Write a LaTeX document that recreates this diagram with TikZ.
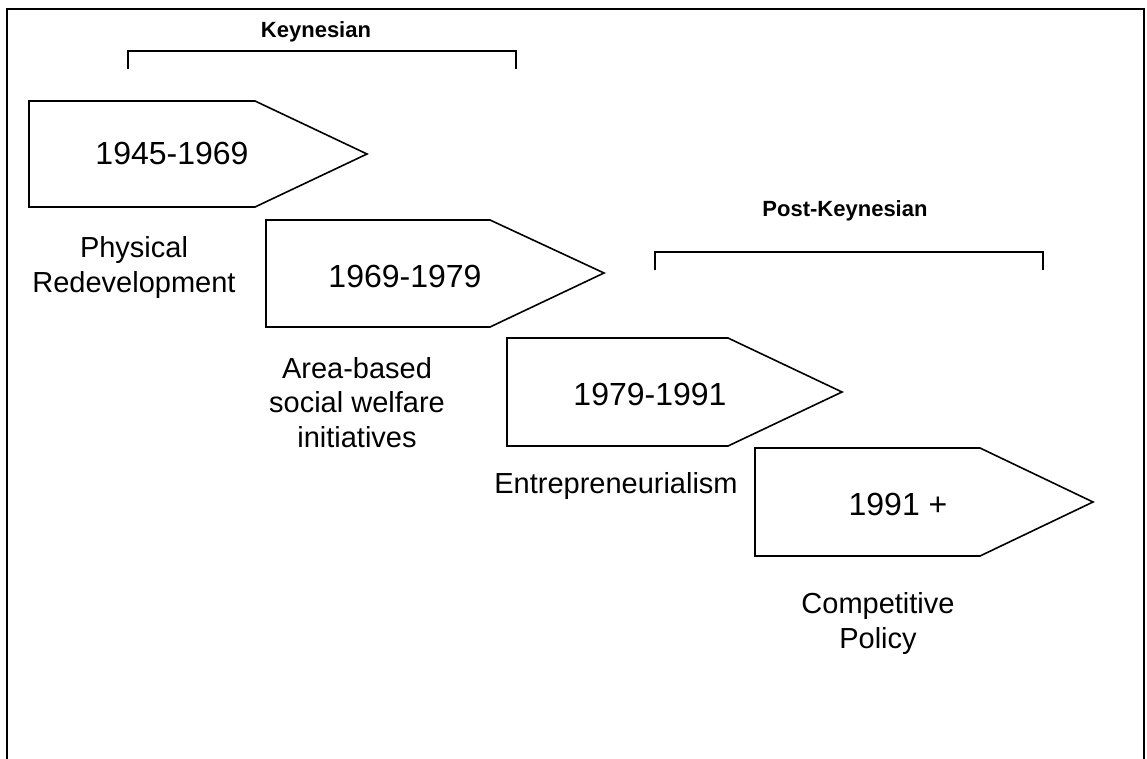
\documentclass[tikz,border=0pt]{standalone}
\usepackage{fontspec}
\setmainfont{Liberation Sans}
\begin{document}
\begin{tikzpicture}[x=1pt,y=-1pt,
  line width=1.6pt,
  stage/.style={draw=black, line join=miter},
  year/.style={font=\fontsize{32}{36}\selectfont, inner sep=0pt, anchor=base},
  lbl/.style={font=\fontsize{29}{34.5}\selectfont, align=center, inner sep=0pt, anchor=base},
  era/.style={font=\bfseries\fontsize{22}{25}\selectfont, inner sep=0pt, anchor=base},
  brk/.style={draw=black, line width=1.6pt}]
\useasboundingbox (0,0) rectangle (1147,759);
% frame
\draw[line width=1.8pt] (7,770) -- (7,9) -- (1144,9) -- (1144,770);
% Keynesian bracket
\node[era] (k) at (316,38) {Keynesian};
\coordinate (k1) at (128,69); \coordinate (k2) at (128,51);
\coordinate (k3) at (516,51); \coordinate (k4) at (516,69);
\draw[brk] (k1) -- (k2) -- (k3) -- (k4);
% Post-Keynesian bracket
\node[era] (pk) at (845,217) {Post-Keynesian};
\coordinate (p1) at (655,270); \coordinate (p2) at (655,252);
\coordinate (p3) at (1043,252); \coordinate (p4) at (1043,270);
\draw[brk] (p1) -- (p2) -- (p3) -- (p4);
% stages
\draw[stage] (29,101) -- (255,101) -- (367,154) -- (255,207) -- (29,207) -- cycle;
\node[year] (y1) at (172,165) {1945-1969};
\draw[stage] (266,220) -- (490,220) -- (604,273) -- (490,327) -- (266,327) -- cycle;
\node[year] (y2) at (405,287) {1969-1979};
\draw[stage] (507,338) -- (728,338) -- (842,392) -- (728,446) -- (507,446) -- cycle;
\node[year] (y3) at (650,405) {1979-1991};
\draw[stage] (755,448) -- (980,448) -- (1093,502) -- (980,556) -- (755,556) -- cycle;
\node[year] (y4) at (898,515) {1991 +};
% labels (anchor=base is the baseline of the last line)
\node[lbl] (l1) at (134,292) {Physical\\Redevelopment};
\node[lbl] (l2) at (357,447) {Area-based\\social welfare\\initiatives};
\node[lbl] (l3) at (616,493) {Entrepreneurialism};
\node[lbl] (l4) at (878,648) {Competitive\\Policy};
\end{tikzpicture}
\end{document}
